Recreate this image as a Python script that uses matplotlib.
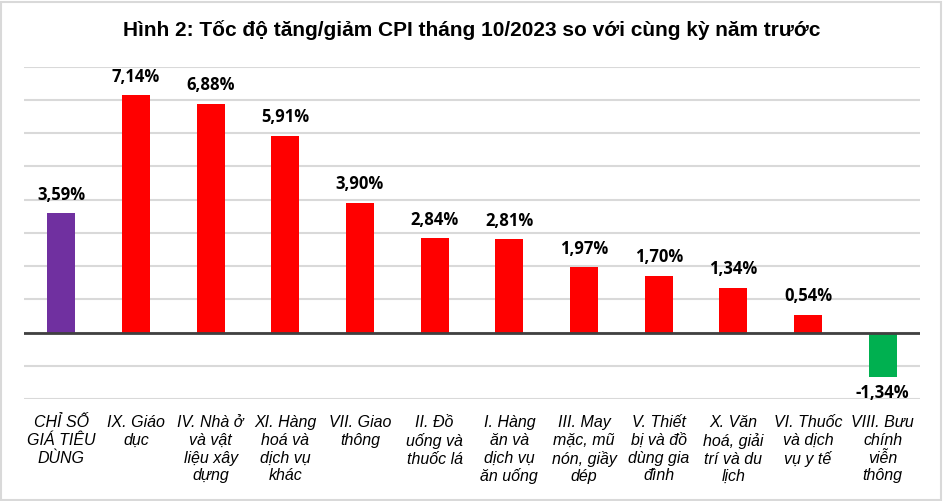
import matplotlib
matplotlib.use("Agg")
import matplotlib.pyplot as plt
from matplotlib.patches import Rectangle

categories = [
    "CHỈ SỐ\nGIÁ TIÊU\nDÙNG",
    "IX. Giáo\ndục",
    "IV. Nhà ở\nvà vật\nliệu xây\ndựng",
    "XI. Hàng\nhoá và\ndịch vụ\nkhác",
    "VII. Giao\nthông",
    "II. Đồ\nuống và\nthuốc lá",
    "I. Hàng\năn và\ndịch vụ\năn uống",
    "III. May\nmặc, mũ\nnón, giầy\ndép",
    "V. Thiết\nbị và đồ\ndùng gia\nđình",
    "X. Văn\nhoá, giải\ntrí và du\nlịch",
    "VI. Thuốc\nvà dịch\nvụ y tế",
    "VIII. Bưu\nchính\nviễn\nthông",
]
values = [3.59, 7.14, 6.88, 5.91, 3.90, 2.84, 2.81, 1.97, 1.70, 1.34, 0.54, -1.34]
colors = ["#7030A0"] + ["#FF0000"] * 10 + ["#00B050"]
title = "Hình 2: Tốc độ tăng/giảm CPI tháng 10/2023 so với cùng kỳ năm trước"

fig = plt.figure(figsize=(9.44, 5.01), dpi=100)
fig.patch.set_facecolor("white")
fig.add_artist(Rectangle((0.0015, 0.002), 0.9955, 0.995, transform=fig.transFigure,
                         fill=False, edgecolor="#D9D9D9", linewidth=1.5))

ax = fig.add_axes([0.0254, 0.203, 0.9492, 0.664])
x = list(range(len(values)))
ax.bar(x, values, width=0.375, color=colors, zorder=3)
ax.set_xlim(-0.5, len(values) - 0.5)
ax.set_ylim(-2, 8)
ax.set_yticks(range(-2, 9))
ax.yaxis.grid(True, color="#D9D9D9", linewidth=1.5, zorder=0)
ax.tick_params(axis="y", left=False, labelleft=False)
ax.tick_params(axis="x", bottom=False, pad=8)
for s in ax.spines.values():
    s.set_visible(False)
ax.axhline(0, color="#404040", linewidth=2, zorder=4)
ax.set_xticks(x)
ax.set_xticklabels(categories, fontsize=11.5, fontstyle="italic",
                   family="Liberation Sans", linespacing=1.22, va="top")

for xi, v in zip(x, values):
    lab = f"{v:.2f}%".replace(".", ",")
    if v >= 0:
        ax.annotate(lab, (xi, v), xytext=(0, 7), textcoords="offset points",
                    ha="center", va="bottom", fontsize=12, fontweight="bold",
                    family="Open Sans", color="black")
    else:
        ax.annotate(lab, (xi, v), xytext=(0, -5), textcoords="offset points",
                    ha="center", va="top", fontsize=12, fontweight="bold",
                    family="Open Sans", color="black")

fig.text(0.5, 0.94, title, ha="center", va="center", fontsize=15,
         fontweight="bold", family="Liberation Sans", color="black")

fig.savefig("out.png", dpi=100, facecolor="white")
